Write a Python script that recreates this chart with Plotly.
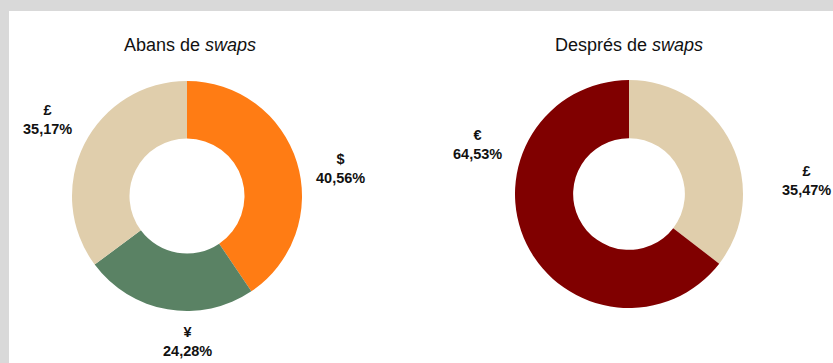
import plotly.graph_objects as go

# ---- data ----
before_labels = ["$", "¥", "£"]
before_values = [40.56, 24.28, 35.17]
before_colors = ["#FF7C14", "#5A8264", "#E0CEAC"]

after_labels = ["£", "€"]
after_values = [35.47, 64.53]
after_colors = ["#E0CEAC", "#800000"]

titles = ["Abans de <i>swaps</i>", "Després de <i>swaps</i>"]

W, H = 833, 363

# ---- layout helpers (pixel -> paper) ----
def px(x):
    return x / W

def py(y):
    return 1 - y / H

def fmt(lab, v):
    return f"<b>{lab}</b><br><b>{v:.2f}%</b>".replace(".", ",")

fig = go.Figure()

fig.add_trace(go.Pie(
    labels=before_labels, values=before_values, sort=False,
    direction="clockwise", rotation=0, hole=0.5,
    marker=dict(colors=before_colors, line=dict(width=0)),
    textinfo="none", hoverinfo="label+percent", showlegend=False,
    domain=dict(x=[px(72), px(302)], y=[py(311), py(81)]),
))
fig.add_trace(go.Pie(
    labels=after_labels, values=after_values, sort=False,
    direction="clockwise", rotation=0, hole=0.49,
    marker=dict(colors=after_colors, line=dict(width=0)),
    textinfo="none", hoverinfo="label+percent", showlegend=False,
    domain=dict(x=[px(515), px(743)], y=[py(308), py(80)]),
))

annotations = []
# titles
for t, cx in zip(titles, [190, 629]):
    annotations.append(dict(text=t, x=px(cx), y=py(45), xref="paper", yref="paper",
                            showarrow=False, xanchor="center", yanchor="middle",
                            font=dict(size=18, color="#111111")))

# data labels (label block centers, layout only)
before_pos = [(340, 169), (187, 341), (47, 119)]
after_pos = [(806, 180), (477, 144)]
for lab, v, (x, y) in zip(before_labels, before_values, before_pos):
    annotations.append(dict(text=fmt(lab, v), x=px(x), y=py(y), xref="paper", yref="paper",
                            showarrow=False, xanchor="center", yanchor="middle",
                            font=dict(size=14.5, color="#111111")))
for lab, v, (x, y) in zip(after_labels, after_values, after_pos):
    annotations.append(dict(text=fmt(lab, v), x=px(x), y=py(y), xref="paper", yref="paper",
                            showarrow=False, xanchor="center", yanchor="middle",
                            font=dict(size=14.5, color="#111111")))

fig.update_layout(
    width=W, height=H,
    margin=dict(l=0, r=0, t=0, b=0),
    paper_bgcolor="#D9D9D9",
    plot_bgcolor="white",
    font=dict(family="Liberation Sans, Arial, sans-serif"),
    annotations=annotations,
    shapes=[dict(type="rect", xref="paper", yref="paper",
                 x0=px(9), x1=1.0, y0=0.0, y1=py(11),
                 fillcolor="white", line=dict(width=0), layer="below")],
)

fig.write_html("out.html")
